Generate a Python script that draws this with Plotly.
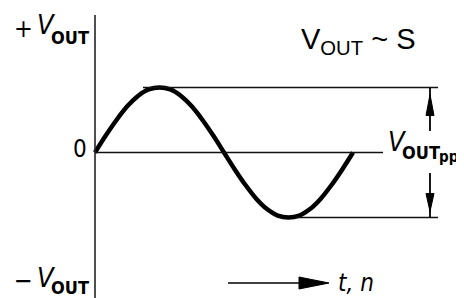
import plotly.graph_objects as go

# ---- data ----
phase_deg = [0, 15, 30, 45, 60, 75, 90, 105, 120, 135, 150, 165, 180,
             195, 210, 225, 240, 255, 270, 285, 300, 315, 330, 345, 360]
v_out = [0.00, 0.26, 0.50, 0.71, 0.87, 0.97, 1.00, 0.97, 0.87, 0.71, 0.50, 0.26, 0.00,
         -0.26, -0.50, -0.71, -0.87, -0.97, -1.00, -0.97, -0.87, -0.71, -0.50, -0.26, 0.00]
v_peak = 1.0
v_trough = -1.0
sign_labels = ["+", "0", "−"]
v_symbol = "<i>V</i>"
v_sub = "OUT"
pp_sub = "pp"
x_label = "<i>t, n</i>"
title_text = "V<sub>OUT</sub> ~ S"

# ---- layout geometry (page pixels; the page body adds an 8 px offset) ----
W, H = 464, 298
OFF = 8.0
X0, PPD = 95.0, 258.0 / 360.0     # page x pixel of phase 0, pixels per degree
Y0, PPU = 152.5, 65.0             # page y pixel of v=0, pixels per unit


def dx(px):
    return (px - X0) / PPD


def dy(py):
    return (Y0 - py) / PPU


def fx(px):
    return (px - OFF) / W


def fy(py):
    return 1 - (py - OFF) / H


FONT = "DejaVu Sans Condensed, Liberation Sans Narrow, Arial Narrow, sans-serif"

fig = go.Figure()
fig.add_trace(go.Scatter(x=phase_deg, y=v_out, mode="lines",
                         line=dict(color="black", width=4.5, shape="spline"),
                         hoverinfo="skip", showlegend=False))

shapes = []
# vertical axis
shapes.append(dict(type="line", xref="x", yref="y", x0=0, x1=0, y0=dy(15), y1=dy(310),
                   line=dict(color="#222", width=1.6)))
# zero line
shapes.append(dict(type="line", xref="x", yref="y", x0=0, x1=dx(383), y0=0, y1=0,
                   line=dict(color="#111", width=1.6)))
# peak / trough reference lines
shapes.append(dict(type="line", xref="x", yref="y", x0=dx(143), x1=dx(438), y0=v_peak, y1=v_peak,
                   line=dict(color="#111", width=1.6)))
shapes.append(dict(type="line", xref="x", yref="y", x0=dx(296), x1=dx(438), y0=v_trough, y1=v_trough,
                   line=dict(color="#111", width=1.6)))

# VOUTpp dimension arrows
AX = 430
ytop = Y0 - v_peak * PPU
ybot = Y0 - v_trough * PPU
shapes.append(dict(type="line", xref="paper", yref="paper", x0=fx(AX), x1=fx(AX),
                   y0=fy(ytop), y1=fy(131), line=dict(color="black", width=1.8)))
shapes.append(dict(type="line", xref="paper", yref="paper", x0=fx(AX), x1=fx(AX),
                   y0=fy(173), y1=fy(ybot), line=dict(color="black", width=1.8)))


def tri(tipx, tipy, basex1, basey1, basex2, basey2):
    return dict(type="path", xref="paper", yref="paper",
                path=f"M{fx(tipx)},{fy(tipy)} L{fx(basex1)},{fy(basey1)} L{fx(basex2)},{fy(basey2)} Z",
                fillcolor="black", line=dict(color="black", width=1))


shapes.append(tri(AX, ytop + 7, AX - 4, ytop + 28, AX + 4, ytop + 28))
shapes.append(tri(AX, ybot - 6, AX - 4, ybot - 24, AX + 4, ybot - 24))

# t, n arrow
shapes.append(dict(type="line", xref="paper", yref="paper", x0=fx(228), x1=fx(310),
                   y0=fy(283), y1=fy(283), line=dict(color="black", width=1.6)))
shapes.append(tri(329, 283, 299, 277, 299, 289))

ann = []


def txt(px, py, text, size, anchor="left", bold=False):
    ann.append(dict(x=fx(px), y=fy(py), xref="paper", yref="paper", xanchor=anchor, yanchor="middle",
                    text=("<b>" + text + "</b>") if bold else text, showarrow=False,
                    font=dict(family=FONT, size=size, color="black")))


# +VOUT
txt(12, 29, sign_labels[0], 25)
txt(35, 25, v_symbol, 27)
txt(49, 38, v_sub, 18, bold=True)
# 0
txt(80, 149, sign_labels[1], 24, anchor="center")
# -VOUT
txt(12, 280, sign_labels[2], 25)
txt(35, 277, v_symbol, 27)
txt(49, 287, v_sub, 18, bold=True)
# VOUTpp
txt(386, 141, v_symbol, 27)
txt(400, 152, v_sub, 18, bold=True)
txt(437, 157, pp_sub, 15, bold=True)
# t, n
txt(336, 283, x_label, 24)
# title
ann.append(dict(x=fx(299), y=fy(41), xref="paper", yref="paper", xanchor="left", yanchor="middle",
                text=title_text, showarrow=False,
                font=dict(family="Liberation Sans, Arial, sans-serif", size=29, color="black")))

fig.update_layout(
    width=W, height=H,
    margin=dict(l=0, r=0, t=0, b=0),
    paper_bgcolor="white", plot_bgcolor="white",
    xaxis=dict(range=[dx(OFF), dx(OFF + W)], visible=False, fixedrange=True),
    yaxis=dict(range=[dy(OFF + H), dy(OFF)], visible=False, fixedrange=True),
    shapes=shapes, annotations=ann, showlegend=False,
)

fig.write_html("out.html")
